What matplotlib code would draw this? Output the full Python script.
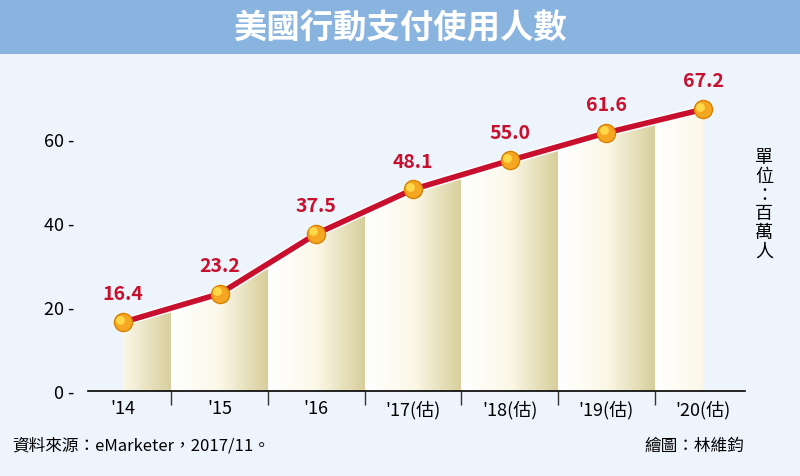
import numpy as np
import matplotlib.pyplot as plt
from matplotlib.patches import Polygon, Rectangle
from matplotlib.colors import LinearSegmentedColormap

plt.rcParams['font.family'] = ['Noto Sans CJK TC', 'DejaVu Sans']

years = ["'14", "'15", "'16", "'17(估)", "'18(估)", "'19(估)", "'20(估)"]
users = [16.4, 23.2, 37.5, 48.1, 55.0, 61.6, 67.2]

bg = '#eef4fb'
fig = plt.figure(figsize=(8, 4.77), dpi=100, facecolor=bg)
ax = fig.add_axes([0.11, 0.178, 0.821, 0.633])
ax.set_facecolor(bg)
x = np.arange(len(users))
ax.set_xlim(-0.36, 6.43)
ax.set_ylim(0, 72)

# gradient columns under the line
cmap = LinearSegmentedColormap.from_list('band', ['#ffffff', '#fbf8e8', '#d8cf9c'])
poly = Polygon(list(zip(x, users)) + [(x[-1], 0), (x[0], 0)], closed=True,
               facecolor='none', edgecolor='none')
ax.add_patch(poly)
grad = np.tile(np.linspace(0, 1, 100), (2, 1))
for i in range(len(users)):
    im = ax.imshow(grad, extent=[i - 0.5, i + 0.5, 0, 72], aspect='auto',
                   cmap=cmap, zorder=1, origin='lower')
    im.set_clip_path(poly)

ax.plot(x, users, color='white', lw=6, zorder=3, solid_capstyle='round')
ax.plot(x, users, color='#c8102e', lw=4, zorder=3, solid_capstyle='round')
ax.scatter(x, users, s=170, color='#f5a623', edgecolor='#d98200', lw=1, zorder=4)
ax.scatter(x - 0.03, np.array(users) + 0.6, s=40, color='#ffd84a', lw=0, zorder=5)
for xi, v in zip(x, users):
    ax.text(xi, v + 4.5, f'{v:.1f}', ha='center', va='bottom', color='#c8102e',
            fontsize=14, fontweight='bold')

for s in ['top', 'right', 'left']:
    ax.spines[s].set_visible(False)
ax.spines['bottom'].set_linewidth(1.2)
ax.set_yticks([0, 20, 40, 60])
ax.tick_params(axis='y', which='major', left=False, pad=6, labelsize=13)
ax.set_yticklabels(['0 -', '20 -', '40 -', '60 -'])
ax.set_xticks(x)
ax.set_xticklabels(years, fontsize=13)
ax.tick_params(axis='x', which='major', length=0, pad=6)
ax.set_xticks(np.arange(0.5, 6, 1), minor=True)
ax.tick_params(axis='x', which='minor', length=10, width=1, color='#333333')

# title banner
fig.patches.append(Rectangle((0, 0.885), 1, 0.115, transform=fig.transFigure,
                             facecolor='#8ab4e0', edgecolor='none'))
fig.text(0.5, 0.94, '美國行動支付使用人數', ha='center', va='center',
         color='white', fontsize=24, fontweight='bold')

fig.text(0.955, 0.57, '單\n位\n：\n百\n萬\n人', ha='center', va='center',
         fontsize=13, linespacing=1.05)
fig.text(0.015, 0.065, '資料來源：eMarketer，2017/11。', fontsize=12, va='center')
fig.text(0.93, 0.065, '繪圖：林維鈞', fontsize=12, va='center', ha='right')

fig.savefig('out.png', dpi=100, facecolor=bg)
